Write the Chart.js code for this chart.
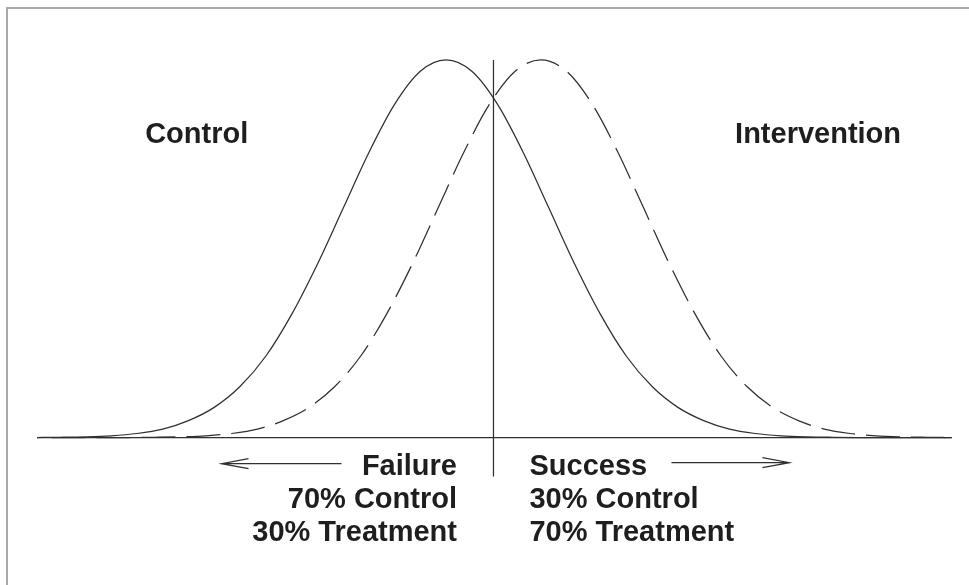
<!DOCTYPE html>
<html><head><meta charset="utf-8">
<script src="https://cdn.jsdelivr.net/npm/chart.js@4/dist/chart.umd.min.js"></script>
<style>
html,body{margin:0;padding:0;background:#fff;}
#wrap{position:relative;width:969px;height:585px;overflow:hidden;background:#fff;}
#frame{position:absolute;left:6px;top:7px;width:1200px;height:1200px;border-top:2px solid #a9a9a9;border-left:2px solid #a9a9a9;}
canvas{position:absolute;left:0;top:0;}
</style></head><body>
<div id="wrap"><div id="frame"></div><canvas id="c" width="969" height="585"></canvas></div>
<script>
// Control curve (solid)
const CONTROL_X = [-4,-3.75,-3.5,-3.25,-3,-2.75,-2.5,-2.25,-2,-1.75,-1.5,-1.25,-1,-0.75,-0.5,-0.25,0,0.25,0.5,0.75,1,1.25,1.5,1.75,2,2.25,2.5,2.75,3,3.25,3.5,3.75,4,4.25,4.5,4.75,4.9];
const CONTROL_Y = [0.0001,0.0004,0.0009,0.002,0.0044,0.009,0.018,0.032,0.054,0.086,0.130,0.183,0.242,0.301,0.352,0.387,0.399,0.387,0.352,0.301,0.242,0.183,0.130,0.086,0.054,0.032,0.018,0.009,0.0044,0.002,0.0009,0.0004,0.0001,0.00005,0.00002,0.00001,0];
// Intervention curve (dashed)
const INTERVENTION_X = [-3.83,-3.58,-3.33,-3.08,-2.83,-2.58,-2.33,-2.08,-1.83,-1.58,-1.33,-1.08,-0.83,-0.58,-0.33,-0.08,0.17,0.42,0.67,0.92,1.17,1.42,1.67,1.92,2.17,2.42,2.67,2.92,3.17,3.42,3.67,3.92,4.17,4.42,4.67,4.9];
const INTERVENTION_Y = [0.00001,0.00002,0.00005,0.0001,0.0004,0.0009,0.002,0.0044,0.009,0.018,0.032,0.054,0.086,0.130,0.183,0.242,0.301,0.352,0.387,0.399,0.387,0.352,0.301,0.242,0.183,0.130,0.086,0.054,0.032,0.018,0.009,0.0044,0.002,0.0009,0.0004,0.0001];
// Baseline and cut-off line
const BASELINE_X = [-3.97, 4.91];
const BASELINE_Y = [0, 0];
const CUTOFF_X = [0.46, 0.46];
const CUTOFF_Y = [-0.041, 0.399];
// Labels
const GROUP_LABELS = ['Control', 'Intervention'];
const LEFT_LABELS = ['Failure', '70% Control', '30% Treatment'];
const RIGHT_LABELS = ['Success', '30% Control', '70% Treatment'];

const pts = (xs, ys) => xs.map((x, i) => ({x: x, y: ys[i]}));
const INK = '#303030';

const labelPlugin = {
  id: 'labels',
  afterDatasetsDraw(chart) {
    const ctx = chart.ctx;
    const xs = chart.scales.x, ys = chart.scales.y;
    const vx = xs.getPixelForValue(CUTOFF_X[0]);
    const by = ys.getPixelForValue(0);
    ctx.save();
    ctx.fillStyle = '#1e1e1e';
    ctx.font = 'bold 29px "Liberation Sans", Arial, Helvetica, sans-serif';
    ctx.textBaseline = 'alphabetic';
    ctx.textAlign = 'center';
    ctx.fillText(GROUP_LABELS[0], xs.getPixelForValue(-2.42), 143);
    ctx.fillText(GROUP_LABELS[1], xs.getPixelForValue(3.61), 143);
    const lineY = [by + 37, by + 70.5, by + 103.5];
    ctx.textAlign = 'right';
    LEFT_LABELS.forEach((t, i) => ctx.fillText(t, vx - 36.5, lineY[i]));
    ctx.textAlign = 'left';
    RIGHT_LABELS.forEach((t, i) => ctx.fillText(t, vx + 36, lineY[i]));
    // arrows
    ctx.strokeStyle = INK;
    ctx.lineWidth = 1.2;
    const ay = by + 26;
    ctx.beginPath();
    ctx.moveTo(vx - 152, ay); ctx.lineTo(vx - 272, ay);
    ctx.moveTo(vx - 245, ay - 5); ctx.lineTo(vx - 272, ay); ctx.lineTo(vx - 245, ay + 5);
    ctx.moveTo(vx + 178, ay - 1); ctx.lineTo(vx + 296, ay - 1);
    ctx.moveTo(vx + 269, ay - 6); ctx.lineTo(vx + 296, ay - 1); ctx.lineTo(vx + 269, ay + 4);
    ctx.stroke();
    ctx.restore();
  }
};

new Chart(document.getElementById('c'), {
  type: 'line',
  data: {
    datasets: [
      {label: 'Control', data: pts(CONTROL_X, CONTROL_Y), borderColor: INK, borderWidth: 1.25, cubicInterpolationMode: 'monotone', pointRadius: 0, fill: false},
      {label: 'Intervention', data: pts(INTERVENTION_X, INTERVENTION_Y), borderColor: INK, borderWidth: 1.25, borderDash: [34, 11], cubicInterpolationMode: 'monotone', pointRadius: 0, fill: false},
      {label: 'Baseline', data: pts(BASELINE_X, BASELINE_Y), borderColor: INK, borderWidth: 1.25, pointRadius: 0, fill: false},
      {label: 'Cutoff', data: pts(CUTOFF_X, CUTOFF_Y), borderColor: INK, borderWidth: 1.25, pointRadius: 0, fill: false}
    ]
  },
  options: {
    responsive: false,
    animation: false,
    devicePixelRatio: 1,
    layout: {padding: {left: 37, right: 17, top: 59, bottom: 100}},
    plugins: {legend: {display: false}, tooltip: {enabled: false}},
    scales: {
      x: {type: 'linear', min: -3.97, max: 4.91, display: false},
      y: {type: 'linear', min: -0.05, max: 0.4, display: false}
    }
  },
  plugins: [labelPlugin]
});
</script>
</body></html>
